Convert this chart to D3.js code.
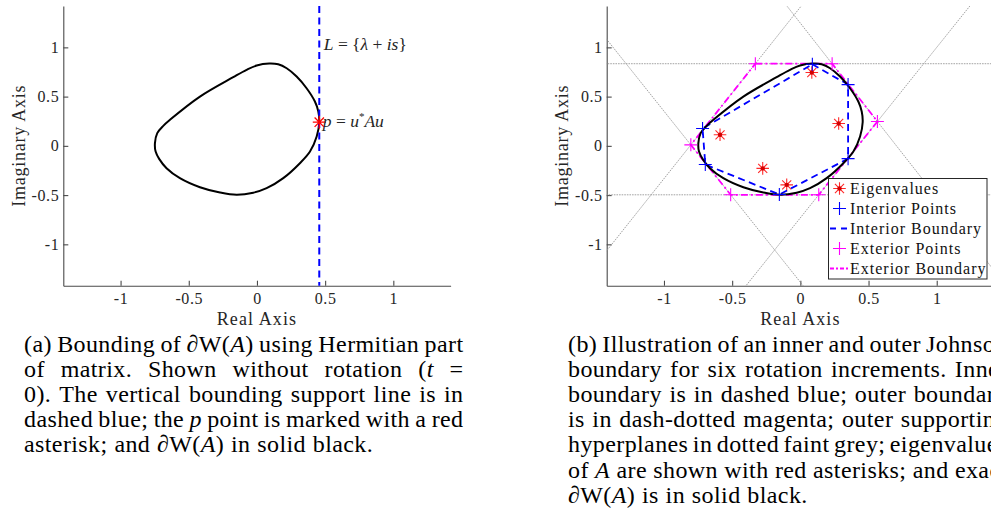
<!DOCTYPE html>
<html>
<head>
<meta charset="utf-8">
<script src="https://cdn.jsdelivr.net/npm/d3@7"></script>
<style>
    body { margin: 0; background: #fff; overflow: hidden; }
    svg, svg text { font-family: "Liberation Serif", "Times New Roman", "DejaVu Serif", serif; }
</style>
</head>
<body>
<div id="chart"></div>
<script>

// exact boundary of the field of values dW(A)
const boundaryRe = [0.09, 0.156, 0.218, 0.291, 0.364, 0.425, 0.45, 0.457, 0.438, 0.389, 0.315, 0.193, 0.071, -0.027,
    -0.149, -0.271, -0.418, -0.565, -0.663, -0.716, -0.743, -0.748, -0.731, -0.687, -0.638, -0.418, -0.174, -0.076, -0.002];
const boundaryIm = [0.836, 0.828, 0.788, 0.704, 0.585, 0.45, 0.349, 0.24, 0.095, -0.058, -0.176, -0.328, -0.43, -0.476,
    -0.497, -0.474, -0.42, -0.328, -0.227, -0.135, -0.058, 0.027, 0.129, 0.203, 0.264, 0.50, 0.697, 0.772, 0.816];

// panel (a): support line and p point
const supportLineRe = 0.457;
const pPoint = [0.457, 0.24];

// panel (b)
const eigRe = [0.084, 0.281, -0.589, -0.276, -0.10];
const eigIm = [0.745, 0.227, 0.112, -0.229, -0.396];
const interiorRe = [0.088, 0.35, 0.35, -0.154, -0.697, -0.717];
const interiorIm = [0.828, 0.622, -0.13, -0.494, -0.19, 0.176];
const exteriorRe = [-0.33, 0.233, 0.565, 0.135, -0.511, -0.803];
const exteriorIm = [0.834, 0.834, 0.247, -0.497, -0.497, 0.01];

const axisDomain = [-1.42, 1.42];
const axisTicks = [-1, -0.5, 0, 0.5, 1];
const tickLabels = ["-1", "-0.5", "0", "0.5", "1"];
const legendLabels = ["Eigenvalues", "Interior Points", "Interior Boundary", "Exterior Points", "Exterior Boundary"];

// captions, one entry per printed line; _x_ = italic
const captionA = [
    "(a) Bounding of ∂W(_A_) using Hermitian part",
    "of matrix.  Shown without rotation (_t_ =",
    "0). The vertical bounding support line is in",
    "dashed blue; the _p_ point is marked with a red",
    "asterisk; and ∂W(_A_) in solid black."
];
const captionB = [
    "(b) Illustration of an inner and outer Johnson",
    "boundary for six rotation increments. Inner",
    "boundary is in dashed blue; outer boundary",
    "is in dash-dotted magenta; outer supporting",
    "hyperplanes in dotted faint grey; eigenvalues",
    "of _A_ are shown with red asterisks; and exact",
    "∂W(_A_) is in solid black."
];

const FONT = "'Liberation Serif', 'Times New Roman', 'DejaVu Serif', serif";
const W = 991, H = 514;
const svg = d3.select("#chart").append("svg")
    .attr("width", W)
    .attr("height", H)
    .style("font-family", FONT);

const boundary = boundaryRe.map((d, i) => [d, boundaryIm[i]]);
const eigs = eigRe.map((d, i) => [d, eigIm[i]]);
const interior = interiorRe.map((d, i) => [d, interiorIm[i]]);
const exterior = exteriorRe.map((d, i) => [d, exteriorIm[i]]);

function plusPath(r) {
    return `M${-r},0H${r}M0,${-r}V${r}`;
}
function asteriskPath(r) {
    let a = r * 0.72;
    return plusPath(r) + `M${-a},${-a}L${a},${a}M${-a},${a}L${a},${-a}`;
}

function makePanel(left) {
    let x = d3.scaleLinear().domain(axisDomain).range([left, left + 387.3]);
    let y = d3.scaleLinear().domain(axisDomain).range([285.7, 6]);
    return {x, y};
}

function drawAxes(p) {
    let fmt = d => tickLabels[axisTicks.indexOf(d)];

    let gx = svg.append("g")
        .attr("transform", `translate(0,${p.y.range()[0]})`)
        .call(d3.axisBottom(p.x).tickValues(axisTicks).tickFormat(fmt)
            .tickSizeInner(-5).tickSizeOuter(0).tickPadding(7));

    let gy = svg.append("g")
        .attr("transform", `translate(${p.x.range()[0]},0)`)
        .call(d3.axisLeft(p.y).tickValues(axisTicks).tickFormat(fmt)
            .tickSizeInner(-5).tickSizeOuter(0).tickPadding(4));

    [gx, gy].forEach(g => {
        g.attr("font-family", null).style("font-family", FONT);
        g.selectAll("path, line").attr("stroke", "#4a4a4a").attr("stroke-width", 1.1);
        g.selectAll("text")
            .style("font-family", FONT)
            .attr("font-size", 16)
            .attr("letter-spacing", 0.6)
            .attr("fill", "#262626");
    });

    svg.append("text")
        .attr("x", p.x(0))
        .attr("y", 325)
        .attr("text-anchor", "middle")
        .attr("font-size", 18)
        .attr("letter-spacing", 1.1)
        .attr("fill", "#262626")
        .text("Real Axis");

    svg.append("text")
        .attr("transform", `translate(${p.x.range()[0] - 38.5},${p.y(0)}) rotate(-90)`)
        .attr("text-anchor", "middle")
        .attr("font-size", 18)
        .attr("letter-spacing", 0.75)
        .attr("fill", "#262626")
        .text("Imaginary Axis");
}

const line = (p) => d3.line().x(d => p.x(d[0])).y(d => p.y(d[1]));

// ---------------- panel (a) ----------------
const pa = makePanel(63.3);
drawAxes(pa);

svg.append("path")
    .datum(boundary)
    .attr("d", line(pa).curve(d3.curveCatmullRomClosed.alpha(0.5)))
    .attr("fill", "none")
    .attr("stroke", "black")
    .attr("stroke-width", 2);

svg.append("line")
    .attr("x1", pa.x(supportLineRe)).attr("x2", pa.x(supportLineRe))
    .attr("y1", pa.y(axisDomain[1])).attr("y2", pa.y(axisDomain[0]))
    .attr("stroke", "#0000ff")
    .attr("stroke-width", 2)
    .attr("stroke-dasharray", "7,4.5");

svg.append("path")
    .attr("d", asteriskPath(6.5))
    .attr("transform", `translate(${pa.x(pPoint[0])},${pa.y(pPoint[1])})`)
    .attr("stroke", "#ff0000")
    .attr("stroke-width", 1.3)
    .attr("fill", "none");

// L = {λ + is}
let lab1 = svg.append("text")
    .attr("x", pa.x(supportLineRe) + 4.5)
    .attr("y", 50)
    .attr("font-size", 17.5)
    .attr("fill", "#262626");
[["L", 1], [" = {", 0], ["λ", 1], [" + ", 0], ["is", 1], ["}", 0]].forEach(s => {
    lab1.append("tspan").attr("font-style", s[1] ? "italic" : "normal").text(s[0]);
});

// p = u*Au
let lab2 = svg.append("text")
    .attr("x", pa.x(supportLineRe) + 3.5)
    .attr("y", 127)
    .attr("font-size", 17.5)
    .attr("fill", "#262626");
lab2.append("tspan").attr("font-style", "italic").text("p");
lab2.append("tspan").text(" = ");
lab2.append("tspan").attr("font-style", "italic").text("u");
lab2.append("tspan").attr("font-size", 11).attr("dy", -7).text("*");
lab2.append("tspan").attr("font-style", "italic").attr("dy", 7).text("Au");

// ---------------- panel (b) ----------------
const pb = makePanel(606.7);
drawAxes(pb);

svg.append("clipPath").attr("id", "clip-b")
    .append("rect")
    .attr("x", pb.x.range()[0]).attr("y", pb.y.range()[1])
    .attr("width", pb.x.range()[1] - pb.x.range()[0])
    .attr("height", pb.y.range()[0] - pb.y.range()[1]);

const plotB = svg.append("g").attr("clip-path", "url(#clip-b)");

// supporting hyperplanes through consecutive exterior points
exterior.forEach((e, i) => {
    let n = exterior[(i + 1) % exterior.length];
    let dx = n[0] - e[0], dy = n[1] - e[1];
    let len = Math.hypot(dx, dy);
    let a = [e[0] - 4 * dx / len, e[1] - 4 * dy / len];
    let b = [e[0] + 4 * dx / len, e[1] + 4 * dy / len];
    plotB.append("line")
        .attr("x1", pb.x(a[0])).attr("y1", pb.y(a[1]))
        .attr("x2", pb.x(b[0])).attr("y2", pb.y(b[1]))
        .attr("stroke", "#999")
        .attr("stroke-width", 0.9)
        .attr("stroke-dasharray", "1.6,1");
});

// eigenvalues
plotB.selectAll(".eig")
    .data(eigs)
    .enter().append("g")
    .attr("class", "eig")
    .attr("transform", d => `translate(${pb.x(d[0])},${pb.y(d[1])})`)
    .each(function() {
        d3.select(this).append("path")
            .attr("d", asteriskPath(6.3))
            .attr("stroke", "#ff2a2a")
            .attr("stroke-width", 1.1)
            .attr("fill", "none");
        d3.select(this).append("circle")
            .attr("r", 2.2)
            .attr("fill", "#d40000");
    });

plotB.append("path")
    .datum(interior)
    .attr("d", line(pb).curve(d3.curveLinearClosed))
    .attr("fill", "none")
    .attr("stroke", "#0000ff")
    .attr("stroke-width", 1.8)
    .attr("stroke-dasharray", "7,4.5");

plotB.append("path")
    .datum(exterior)
    .attr("d", line(pb).curve(d3.curveLinearClosed))
    .attr("fill", "none")
    .attr("stroke", "#ff00ff")
    .attr("stroke-width", 1.8)
    .attr("stroke-dasharray", "7,3,2,3");

plotB.append("path")
    .datum(boundary)
    .attr("d", line(pb).curve(d3.curveCatmullRomClosed.alpha(0.5)))
    .attr("fill", "none")
    .attr("stroke", "black")
    .attr("stroke-width", 2);

plotB.selectAll(".int-pt")
    .data(interior)
    .enter().append("path")
    .attr("class", "int-pt")
    .attr("d", plusPath(6.5))
    .attr("transform", d => `translate(${pb.x(d[0])},${pb.y(d[1])})`)
    .attr("stroke", "#0000ff")
    .attr("stroke-width", 1.1);

plotB.selectAll(".ext-pt")
    .data(exterior)
    .enter().append("path")
    .attr("class", "ext-pt")
    .attr("d", plusPath(6.5))
    .attr("transform", d => `translate(${pb.x(d[0])},${pb.y(d[1])})`)
    .attr("stroke", "#ff00ff")
    .attr("stroke-width", 1.1);

// legend
const legend = svg.append("g").attr("transform", "translate(828.5,178.5)");
legend.append("rect")
    .attr("width", 158.5)
    .attr("height", 100.5)
    .attr("fill", "white")
    .attr("stroke", "#262626")
    .attr("stroke-width", 1);

legendLabels.forEach((lbl, i) => {
    let cy = 10 + 20 * i;
    let row = legend.append("g").attr("transform", `translate(0,${cy})`);
    if (i === 0) {
        row.append("path").attr("d", asteriskPath(6.3)).attr("transform", "translate(11,0)")
            .attr("stroke", "#ff2a2a").attr("stroke-width", 1.1).attr("fill", "none");
        row.append("circle").attr("cx", 11).attr("r", 2.2).attr("fill", "#d40000");
    } else if (i === 1 || i === 3) {
        row.append("path").attr("d", plusPath(6.5)).attr("transform", "translate(11,0)")
            .attr("stroke", i === 1 ? "#0000ff" : "#ff00ff").attr("stroke-width", 1.1);
    } else {
        row.append("line").attr("x1", 1.5).attr("x2", 20).attr("y1", 0).attr("y2", 0)
            .attr("stroke", i === 2 ? "#0000ff" : "#ff00ff")
            .attr("stroke-width", 1.8)
            .attr("stroke-dasharray", i === 2 ? "6,5" : "4,2,2,2");
    }
    row.append("text")
        .attr("x", 21.5)
        .attr("y", 5.5)
        .attr("font-size", 16)
        .attr("letter-spacing", 1)
        .attr("fill", "#111")
        .text(lbl);
});

// ---------------- captions ----------------
function drawCaption(lines, x0, y0, width) {
    let g = svg.append("g")
        .style("font-family", FONT)
        .attr("font-size", 24)
        .attr("letter-spacing", 0.4)
        .attr("fill", "black");
    lines.forEach((str, li) => {
        let y = y0 + li * 25.1;
        let items = str.split(/ +/).map(word => {
            let t = g.append("text").attr("y", y);
            word.split("_").forEach((part, k) => {
                if (part.length) t.append("tspan").attr("font-style", k % 2 ? "italic" : "normal").text(part);
            });
            return {t: t, w: t.node().getComputedTextLength()};
        });
        let total = d3.sum(items, d => d.w);
        let last = li === lines.length - 1;
        let gap = last ? 6.8 : (width - total) / (items.length - 1);
        let cx = x0;
        items.forEach(d => {
            d.t.attr("x", cx);
            cx += d.w + gap;
        });
    });
}

drawCaption(captionA, 24, 352, 439.5);
drawCaption(captionB, 568, 352, 439.5);

</script>
</body>
</html>
